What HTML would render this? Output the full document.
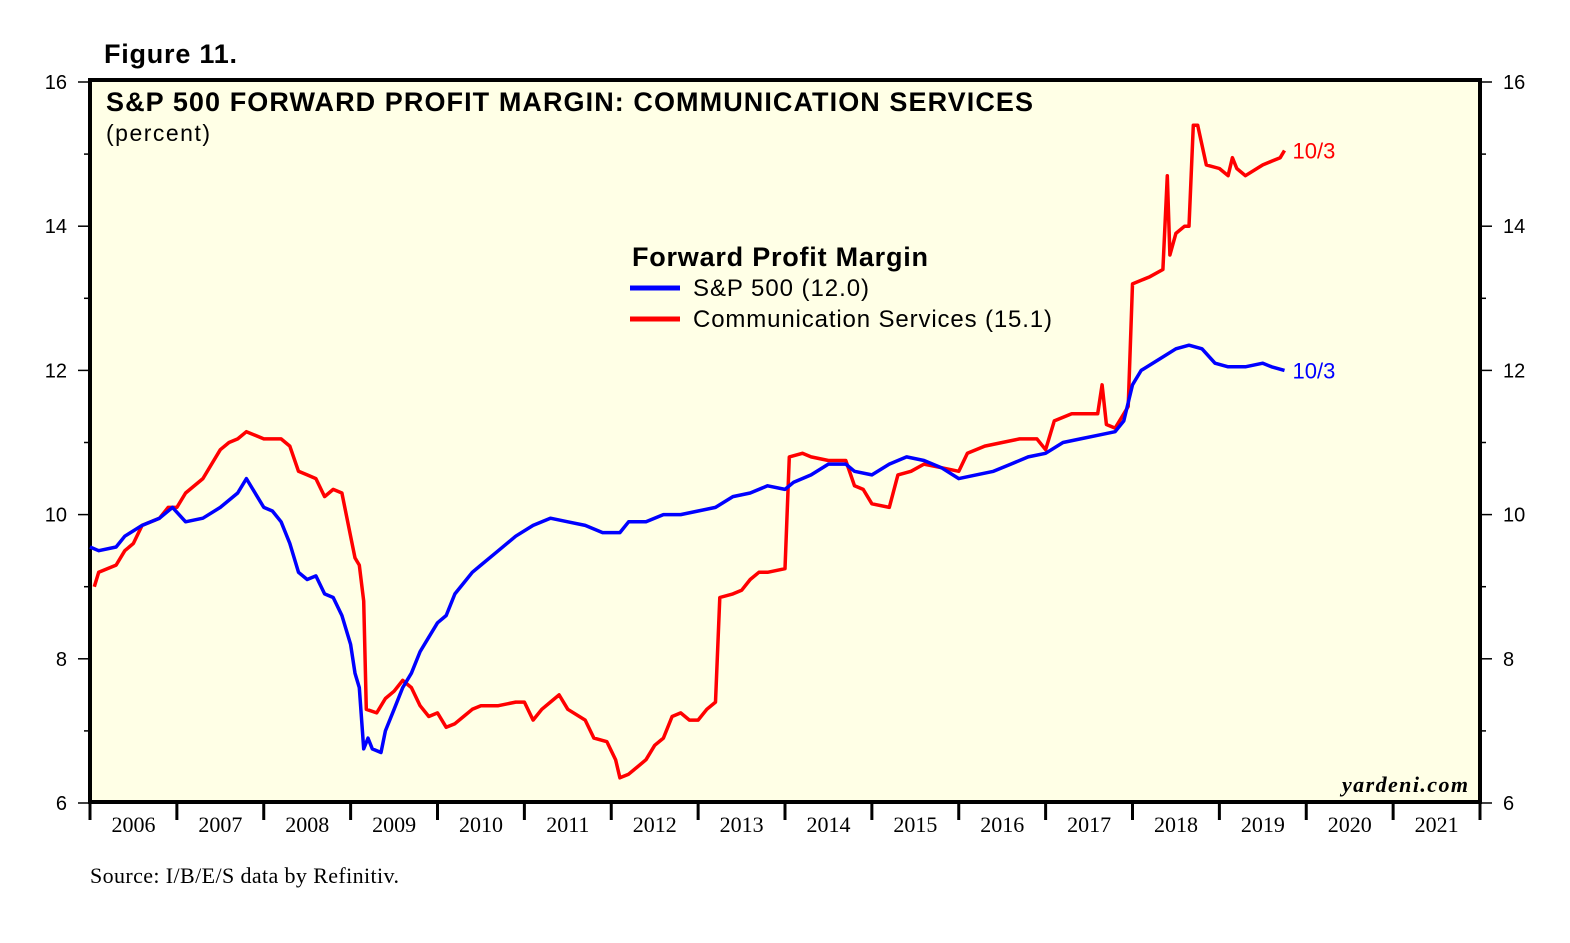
<!DOCTYPE html>
<html><head><meta charset="utf-8"><style>
body{margin:0;background:#fff;}
svg{display:block;font-family:"Liberation Sans",sans-serif;}
</style></head><body>
<svg width="1570" height="943" viewBox="0 0 1570 943">
<text x="104" y="63" font-size="27" font-weight="bold" textLength="133">Figure 11.</text>
<rect x="90" y="80" width="1390" height="722" fill="#ffffe6" stroke="#000" stroke-width="4"/>
<g id="axes"></g>
<g id="series"></g>
<text x="106" y="111" font-size="27" font-weight="bold" textLength="927">S&amp;P 500 FORWARD PROFIT MARGIN: COMMUNICATION SERVICES</text>
<text x="106" y="141" font-size="23" textLength="104">(percent)</text>
<g>
<text x="632" y="266" font-size="27" font-weight="bold" textLength="296">Forward Profit Margin</text>
<line x1="630" y1="288" x2="680" y2="288" stroke="#0000ff" stroke-width="5"/>
<text x="693" y="296" font-size="24" textLength="176">S&amp;P 500 (12.0)</text>
<line x1="630" y1="319" x2="680" y2="319" stroke="#ff0000" stroke-width="5"/>
<text x="693" y="327" font-size="24" textLength="359">Communication Services (15.1)</text>
</g>
<text x="1342" y="792" font-size="22" font-style="italic" font-weight="bold" font-family="Liberation Serif, serif" textLength="126">yardeni.com</text>
<text x="90" y="883" font-size="22" font-family="Liberation Serif, serif" textLength="309">Source: I/B/E/S data by Refinitiv.</text>
</svg>
<script>
const yTicks=[6,8,10,12,14,16];
const years=[2006,2007,2008,2009,2010,2011,2012,2013,2014,2015,2016,2017,2018,2019,2020,2021];
const spDates=[2006.0,2006.1,2006.3,2006.4,2006.6,2006.8,2006.95,2007.1,2007.3,2007.5,2007.7,2007.8,2007.9,2008.0,2008.1,2008.2,2008.3,2008.4,2008.5,2008.6,2008.7,2008.8,2008.9,2009.0,2009.05,2009.1,2009.15,2009.2,2009.25,2009.35,2009.4,2009.5,2009.6,2009.7,2009.8,2009.9,2010.0,2010.1,2010.2,2010.3,2010.4,2010.5,2010.7,2010.9,2011.1,2011.3,2011.5,2011.7,2011.9,2012.1,2012.2,2012.4,2012.6,2012.8,2013.0,2013.2,2013.4,2013.6,2013.8,2014.0,2014.1,2014.3,2014.5,2014.7,2014.8,2015.0,2015.2,2015.4,2015.6,2015.8,2016.0,2016.2,2016.4,2016.6,2016.8,2017.0,2017.2,2017.4,2017.6,2017.8,2017.9,2018.0,2018.1,2018.3,2018.5,2018.65,2018.8,2018.95,2019.1,2019.3,2019.5,2019.6,2019.75];
const spValues=[9.55,9.5,9.55,9.7,9.85,9.95,10.1,9.9,9.95,10.1,10.3,10.5,10.3,10.1,10.05,9.9,9.6,9.2,9.1,9.15,8.9,8.85,8.6,8.2,7.8,7.6,6.75,6.9,6.75,6.7,7.0,7.3,7.6,7.8,8.1,8.3,8.5,8.6,8.9,9.05,9.2,9.3,9.5,9.7,9.85,9.95,9.9,9.85,9.75,9.75,9.9,9.9,10.0,10.0,10.05,10.1,10.25,10.3,10.4,10.35,10.45,10.55,10.7,10.7,10.6,10.55,10.7,10.8,10.75,10.65,10.5,10.55,10.6,10.7,10.8,10.85,11.0,11.05,11.1,11.15,11.3,11.8,12.0,12.15,12.3,12.35,12.3,12.1,12.05,12.05,12.1,12.05,12.0];
const csDates=[2006.05,2006.1,2006.3,2006.4,2006.5,2006.6,2006.8,2006.9,2007.0,2007.1,2007.3,2007.4,2007.5,2007.6,2007.7,2007.8,2007.9,2008.0,2008.2,2008.3,2008.4,2008.5,2008.6,2008.7,2008.8,2008.9,2009.0,2009.05,2009.1,2009.15,2009.18,2009.3,2009.4,2009.5,2009.6,2009.7,2009.8,2009.9,2010.0,2010.1,2010.2,2010.3,2010.4,2010.5,2010.7,2010.9,2011.0,2011.1,2011.2,2011.3,2011.4,2011.5,2011.7,2011.8,2011.95,2012.05,2012.1,2012.2,2012.3,2012.4,2012.5,2012.6,2012.7,2012.8,2012.9,2013.0,2013.1,2013.2,2013.25,2013.4,2013.5,2013.6,2013.7,2013.8,2014.0,2014.05,2014.2,2014.3,2014.5,2014.7,2014.8,2014.9,2015.0,2015.2,2015.3,2015.45,2015.6,2015.8,2016.0,2016.1,2016.3,2016.5,2016.7,2016.9,2017.0,2017.1,2017.3,2017.5,2017.6,2017.65,2017.7,2017.8,2017.95,2018.0,2018.2,2018.35,2018.4,2018.43,2018.5,2018.6,2018.65,2018.7,2018.75,2018.85,2019.0,2019.1,2019.15,2019.2,2019.3,2019.5,2019.6,2019.7,2019.75];
const csValues=[9.0,9.2,9.3,9.5,9.6,9.85,9.95,10.1,10.1,10.3,10.5,10.7,10.9,11.0,11.05,11.15,11.1,11.05,11.05,10.95,10.6,10.55,10.5,10.25,10.35,10.3,9.7,9.4,9.3,8.8,7.3,7.25,7.45,7.55,7.7,7.6,7.35,7.2,7.25,7.05,7.1,7.2,7.3,7.35,7.35,7.4,7.4,7.15,7.3,7.4,7.5,7.3,7.15,6.9,6.85,6.6,6.35,6.4,6.5,6.6,6.8,6.9,7.2,7.25,7.15,7.15,7.3,7.4,8.85,8.9,8.95,9.1,9.2,9.2,9.25,10.8,10.85,10.8,10.75,10.75,10.4,10.35,10.15,10.1,10.55,10.6,10.7,10.65,10.6,10.85,10.95,11.0,11.05,11.05,10.9,11.3,11.4,11.4,11.4,11.8,11.25,11.2,11.5,13.2,13.3,13.4,14.7,13.6,13.9,14.0,14.0,15.4,15.4,14.85,14.8,14.7,14.95,14.8,14.7,14.85,14.9,14.95,15.05];
const NS="http://www.w3.org/2000/svg";
const X=d=>90+(d-2006)*86.875;
const Y=v=>803-(v-6)*72.1;
function mk(t,a,p){const e=document.createElementNS(NS,t);for(const k in a)e.setAttribute(k,a[k]);p.appendChild(e);return e;}
const ax=document.getElementById('axes');
for(let v=6;v<=16;v+=1){
 const major=v%2===0;
 const l=mk('line',{x1:major?78:84,x2:90,y1:Y(v),y2:Y(v),stroke:'#000','stroke-width':1.5},ax);
 
 
 const r=mk('line',{x1:1480,x2:major?1492:1486,y1:Y(v),y2:Y(v),stroke:'#000','stroke-width':1.5},ax);
 
 
}
yTicks.forEach(v=>{
 const t=mk('text',{x:67,y:Y(v)+7,'font-size':20,'text-anchor':'end'},ax);t.textContent=v;
 
 
 const t2=mk('text',{x:1503,y:Y(v)+7,'font-size':20},ax);t2.textContent=v;
 
 
});
for(let i=0;i<=years.length;i++){
 const l=mk('line',{x1:X(2006+i),x2:X(2006+i),y1:802,y2:820,stroke:'#000','stroke-width':3},ax);
 
 
}
years.forEach(y=>{
 const t=mk('text',{x:X(y+0.5),y:832,'font-size':22,'text-anchor':'middle','font-family':'Liberation Serif, serif'},ax);t.textContent=y;
 
 
});
const sg=document.getElementById('series');
function line(ds,vs,c,name){
 const p=mk('polyline',{points:ds.map((d,i)=>X(d).toFixed(1)+','+Y(vs[i]).toFixed(1)).join(' '),fill:'none',stroke:c,'stroke-width':3.5,'stroke-linejoin':'round'},sg);
 
 
 const t=mk('text',{x:X(ds[ds.length-1])+8,y:Y(vs[vs.length-1])+8,'font-size':22,fill:c},sg);t.textContent='10/3';
 
 
}
line(csDates,csValues,'#ff0000','comm-services-line');
line(spDates,spValues,'#0000ff','sp500-line');
</script>
</body></html>
